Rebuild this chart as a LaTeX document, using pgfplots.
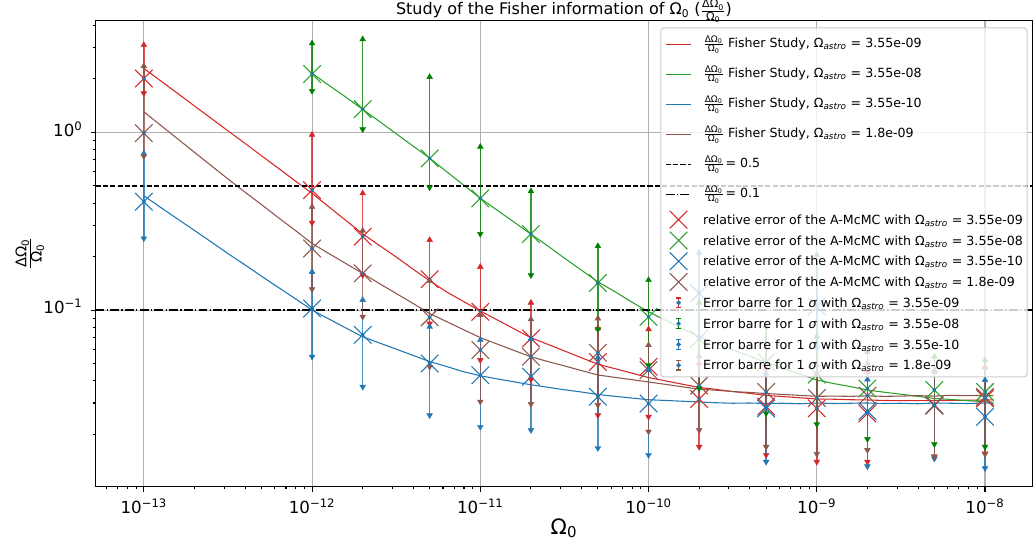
\documentclass[border=0pt]{standalone}
\usepackage{fontspec}
\setmainfont{DejaVu Sans}
\usepackage{pgfplots}
\usepackage{pgfplotstable}
\pgfplotsset{compat=1.18}

\definecolor{tred}{HTML}{D62728}
\definecolor{tgreen}{HTML}{2CA02C}
\definecolor{tblue}{HTML}{1F77B4}
\definecolor{tbrown}{HTML}{8C564B}
\definecolor{dgreen}{HTML}{008000}
\definecolor{gridc}{HTML}{B0B0B0}
\definecolor{legc}{HTML}{CCCCCC}

\newcommand{\fr}[1]{$\frac{\mbox{\fontsize{#1}{#1}\selectfont ΔΩ\textsubscript{0}}}{\mbox{\fontsize{#1}{#1}\selectfont Ω\textsubscript{0}}}$}
\newcommand{\oa}{Ω\textsubscript{\textit{astro}}}
\newcommand{\sF}{\rule[-8.8pt]{0pt}{22.5pt}}
\newcommand{\sR}{\rule[-4.35pt]{0pt}{15.6pt}}

\pgfplotsset{
  lline/.style={legend image code/.code={\draw[mark repeat=2,mark phase=2,##1] plot coordinates {(0pt,0pt) (9.65pt,0pt) (19.3pt,0pt)};}},
  lerr/.style={legend image code/.code={%
     \draw[##1, line width=1.1pt] (9.65pt,-3.6pt) -- (9.65pt,3.6pt);
     \draw[##1, line width=0.8pt] (7.7pt,-3.6pt) -- (11.6pt,-3.6pt);
     \draw[##1, line width=0.8pt] (7.7pt,3.6pt) -- (11.6pt,3.6pt);
     \fill[tblue] (9.65pt,0pt) circle (1.3pt);}},
  errdot/.style={only marks, forget plot, mark=*, mark size=1.3pt, mark options={draw=tblue, fill=tblue, line width=0.2pt},
     error bars/.cd, y dir=both, y explicit, error mark=none,
     error bar style={draw=#1, line width=1.1pt, draw opacity=0.8}},
  uptri/.style={only marks, forget plot, mark=triangle*, mark size=2.5pt, mark options={draw=#1, fill=#1, line width=0.3pt}},
  dntri/.style={only marks, forget plot, mark=triangle*, mark size=2.5pt, mark options={draw=#1, fill=#1, line width=0.3pt, rotate=180}},
  xmk/.style={only marks, forget plot, mark=x, mark size=9.3pt, mark options={draw=#1, line width=0.8pt}},
}

% Fisher study curves
\pgfplotstableread{
x y
1e-13 2.29
1.2589e-13 1.95
1.5849e-13 1.66
1.9953e-13 1.41
2.5119e-13 1.20
3.1623e-13 1.02
3.9811e-13 0.869
5.0119e-13 0.738
6.3096e-13 0.628
7.9433e-13 0.533
1e-12 0.454
1.2589e-12 0.381
1.5849e-12 0.320
1.9953e-12 0.269
2.5119e-12 0.231
3.1623e-12 0.199
3.9811e-12 0.170
5.0119e-12 0.146
6.3096e-12 0.1265
7.9433e-12 0.1117
1e-11 0.0989
1.2589e-11 0.0881
1.5849e-11 0.0785
1.9953e-11 0.0700
2.5119e-11 0.0642
3.1623e-11 0.0589
3.9811e-11 0.0540
5.0119e-11 0.0495
6.3096e-11 0.0468
7.9433e-11 0.0442
1e-10 0.0417
1.2589e-10 0.0400
1.5849e-10 0.0383
1.9953e-10 0.0367
2.5119e-10 0.0358
3.1623e-10 0.0348
3.9811e-10 0.0340
5.0119e-10 0.0331
6.3096e-10 0.0326
7.9433e-10 0.0321
1e-9 0.0316
1.2589e-9 0.0315
1.5849e-9 0.0313
1.9953e-9 0.0312
2.5119e-9 0.0310
3.1623e-9 0.0309
3.9811e-9 0.0309
5.0119e-9 0.0310
6.3096e-9 0.0310
7.9433e-9 0.0311
1e-8 0.0312
1.122e-8 0.0312
}\fisherred

\pgfplotstableread{
x y
1e-12 2.15
1.2589e-12 1.84
1.5849e-12 1.58
1.9953e-12 1.35
2.5119e-12 1.153
3.1623e-12 0.982
3.9811e-12 0.838
5.0119e-12 0.715
6.3096e-12 0.601
7.9433e-12 0.506
1e-11 0.426
1.2589e-11 0.365
1.5849e-11 0.313
1.9953e-11 0.268
2.5119e-11 0.230
3.1623e-11 0.196
3.9811e-11 0.168
5.0119e-11 0.144
6.3096e-11 0.127
7.9433e-11 0.111
1e-10 0.0977
1.2589e-10 0.0877
1.5849e-10 0.0788
1.9953e-10 0.0708
2.5119e-10 0.0651
3.1623e-10 0.0598
3.9811e-10 0.0551
5.0119e-10 0.0507
6.3096e-10 0.0470
7.9433e-10 0.0436
1e-9 0.0404
1.2589e-9 0.0386
1.5849e-9 0.0371
1.9953e-9 0.0355
2.5119e-9 0.0345
3.1623e-9 0.0336
3.9811e-9 0.0327
5.0119e-9 0.0318
6.3096e-9 0.0314
7.9433e-9 0.0309
1e-8 0.0305
1.122e-8 0.0303
}\fishergreen

\pgfplotstableread{
x y
1e-13 0.440
1.2589e-13 0.378
1.5849e-13 0.326
1.9953e-13 0.281
2.5119e-13 0.242
3.1623e-13 0.208
3.9811e-13 0.180
5.0119e-13 0.155
6.3096e-13 0.134
7.9433e-13 0.116
1e-12 0.100
1.2589e-12 0.0891
1.5849e-12 0.0794
1.9953e-12 0.0708
2.5119e-12 0.0653
3.1623e-12 0.0603
3.9811e-12 0.0556
5.0119e-12 0.0513
6.3096e-12 0.0481
7.9433e-12 0.0450
1e-11 0.0427
1.2589e-11 0.0410
1.5849e-11 0.0395
1.9953e-11 0.0380
2.5119e-11 0.0368
3.1623e-11 0.0356
3.9811e-11 0.0346
5.0119e-11 0.0335
6.3096e-11 0.0327
7.9433e-11 0.0320
1e-10 0.0313
1.2589e-10 0.0310
1.5849e-10 0.0307
1.9953e-10 0.0304
2.5119e-10 0.0301
3.1623e-10 0.0299
3.9811e-10 0.0300
5.0119e-10 0.0298
6.3096e-10 0.0299
7.9433e-10 0.0297
1e-9 0.0300
1.2589e-9 0.0298
1.5849e-9 0.0299
1.9953e-9 0.0300
2.5119e-9 0.0298
3.1623e-9 0.0299
3.9811e-9 0.0297
5.0119e-9 0.0300
6.3096e-9 0.0299
7.9433e-9 0.0298
1e-8 0.0300
1.122e-8 0.0299
}\fisherblue

\pgfplotstableread{
x y
1e-13 1.306
1.2589e-13 1.096
1.5849e-13 0.921
1.9953e-13 0.774
2.5119e-13 0.650
3.1623e-13 0.547
3.9811e-13 0.462
5.0119e-13 0.392
6.3096e-13 0.331
7.9433e-13 0.281
1e-12 0.237
1.2589e-12 0.208
1.5849e-12 0.183
1.9953e-12 0.161
2.5119e-12 0.141
3.1623e-12 0.124
3.9811e-12 0.109
5.0119e-12 0.0955
6.3096e-12 0.0861
7.9433e-12 0.0776
1e-11 0.0700
1.2589e-11 0.0644
1.5849e-11 0.0593
1.9953e-11 0.0546
2.5119e-11 0.0514
3.1623e-11 0.0485
3.9811e-11 0.0457
5.0119e-11 0.0431
6.3096e-11 0.0418
7.9433e-11 0.0406
1e-10 0.0394
1.2589e-10 0.0382
1.5849e-10 0.0370
1.9953e-10 0.0359
2.5119e-10 0.0354
3.1623e-10 0.0348
3.9811e-10 0.0344
5.0119e-10 0.0339
6.3096e-10 0.0335
7.9433e-10 0.0331
1e-9 0.0327
1.2589e-9 0.0328
1.5849e-9 0.0327
1.9953e-9 0.0329
2.5119e-9 0.0327
3.1623e-9 0.0328
3.9811e-9 0.0330
5.0119e-9 0.0328
6.3096e-9 0.0331
7.9433e-9 0.0330
1e-8 0.0331
1.122e-8 0.0330
}\fisherbrown

% A-McMC relative errors: value, upper and lower end of the 1 sigma bar
\pgfplotstableread{
x y top bot
1e-13 2.01 3.1 1.66
1e-12 0.473 0.97 0.31
2e-12 0.259 0.454 0.157
5e-12 0.149 0.248 0.084
1e-11 0.0978 0.175 0.0523
2e-11 0.0693 0.11 0.0407
5e-11 0.051 0.079 0.0256
1e-10 0.048 0.078 0.0251
2e-10 0.0316 0.05 0.017
5e-10 0.0287 0.047 0.0153
1e-9 0.028 0.044 0.014
2e-9 0.0262 0.045 0.014
5e-9 0.0292 0.0458 0.015
1e-8 0.0318 0.0475 0.0156
}\mcred

\pgfplotstableread{
x y top bot
1e-12 2.13 3.17 1.71
2e-12 1.35 3.34 1.04
5e-12 0.714 2.05 0.49
1e-11 0.425 0.83 0.268
2e-11 0.268 0.467 0.157
5e-11 0.142 0.229 0.0779
1e-10 0.0916 0.1475 0.049
2e-10 0.069 0.11 0.0363
5e-10 0.051 0.081 0.0262
1e-9 0.0433 0.071 0.0228
2e-9 0.0362 0.058 0.0188
5e-9 0.0355 0.0546 0.0176
1e-8 0.0346 0.0523 0.017
}\mcgreen

\pgfplotstableread{
x y top bot
1e-13 0.407 0.76 0.253
1e-12 0.102 0.164 0.0546
2e-12 0.0725 0.114 0.037
5e-12 0.05 0.0805 0.0256
1e-11 0.043 0.0678 0.022
2e-11 0.0422 0.069 0.0211
5e-11 0.0325 0.054 0.0167
1e-10 0.0298 0.046 0.0153
2e-10 0.124 0.21 0.07
5e-10 0.0279 0.044 0.014
1e-9 0.105 0.204 0.061
2e-9 0.027 0.0407 0.0132
5e-9 0.029 0.045 0.0146
1e-8 0.0251 0.0404 0.0129
}\mcblue

\pgfplotstableread{
x y top bot
1e-13 0.99 2.36 0.735
1e-12 0.222 0.381 0.131
2e-12 0.161 0.28 0.0917
5e-12 0.091 0.146 0.048
1e-11 0.0596 0.0937 0.0305
2e-11 0.0546 0.0887 0.0296
5e-11 0.0575 0.0897 0.0292
1e-10 0.0459 0.0635 0.0207
2e-10 0.0376 0.055 0.0211
5e-10 0.0346 0.05 0.017
1e-9 0.032 0.049 0.0155
2e-9 0.033 0.05 0.0163
5e-9 0.029 0.046 0.015
1e-8 0.0325 0.048 0.0155
}\mcbrown

\begin{document}
\begin{tikzpicture}
\useasboundingbox (-71.625pt,-43.725pt) rectangle (703.875pt,365.025pt);
\begin{axis}[
  at={(0pt,0pt)}, anchor=south west,
  scale only axis, width=702.75pt, height=349.5pt,
  xmode=log, ymode=log,
  xmin=5.16e-14, xmax=1.915e-8, ymin=0.01014, ymax=4.25,
  axis line style={line width=0.8pt, black},
  tick align=outside, tick pos=left,
  xtick={1e-13,1e-12,1e-11,1e-10,1e-9,1e-8},
  xticklabels={10\textsuperscript{−13},10\textsuperscript{−12},10\textsuperscript{−11},10\textsuperscript{−10},10\textsuperscript{−9},10\textsuperscript{−8}},
  ytick={0.1,1},
  yticklabels={10\textsuperscript{−1},10\textsuperscript{0}},
  minor xtick={6e-14,7e-14,8e-14,9e-14,2e-13,3e-13,4e-13,5e-13,6e-13,7e-13,8e-13,9e-13,2e-12,3e-12,4e-12,5e-12,6e-12,7e-12,8e-12,9e-12,2e-11,3e-11,4e-11,5e-11,6e-11,7e-11,8e-11,9e-11,2e-10,3e-10,4e-10,5e-10,6e-10,7e-10,8e-10,9e-10,2e-9,3e-9,4e-9,5e-9,6e-9,7e-9,8e-9,9e-9},
  minor ytick={0.02,0.03,0.04,0.05,0.06,0.07,0.08,0.09,0.2,0.3,0.4,0.5,0.6,0.7,0.8,0.9,2,3,4},
  major tick length=3.7pt, minor tick length=2.1pt,
  every tick/.style={black, line width=0.8pt},
  grid=major, major grid style={gridc, line width=0.8pt},
  tick label style={font=\fontsize{12.5}{14}\selectfont},
  xticklabel style={anchor=base, yshift=-16.2pt},
  yticklabel style={anchor=mid east, xshift=-2.5pt},
  title={Study of the Fisher information of Ω\textsubscript{0} (\fr{8.4})},
  title style={at={(axis description cs:0.5,1)}, anchor=base, yshift=-1.7pt, font=\fontsize{12}{14}\selectfont},
  xlabel={Ω\textsubscript{0}},
  xlabel style={at={(axis description cs:0.5,-0.0886)}, anchor=center, font=\fontsize{16}{18}\selectfont},
  ylabel={\fr{11}},
  ylabel style={at={(axis description cs:-0.0699,0.5)}, anchor=center, font=\fontsize{15}{18}\selectfont},
  legend cell align=left,
  legend style={at={(axis description cs:1,1)}, anchor=north east, xshift=-3.6pt, yshift=-5pt,
     draw=legc, line width=0.8pt, fill=white, fill opacity=0.8, text opacity=1,
     rounded corners=2.5pt, font=\fontsize{9.45}{11.4}\selectfont,
     inner xsep=3.2pt, inner ysep=1pt, row sep=0pt, column sep=8.25pt,
     nodes={inner xsep=0pt, inner ysep=0pt, text depth=, text height=}},
  lline,
]
% Fisher curves
\addplot[tred, line width=0.8pt, forget plot] table[x=x,y=y]{\fisherred};
\addplot[tgreen, line width=0.8pt, forget plot] table[x=x,y=y]{\fishergreen};
\addplot[tblue, line width=0.8pt, forget plot] table[x=x,y=y]{\fisherblue};
\addplot[tbrown, line width=0.8pt, forget plot] table[x=x,y=y]{\fisherbrown};
% reference levels
\addplot[black, line width=1.04pt, dash pattern=on 3.85pt off 1.67pt, forget plot] coordinates {(5.16e-14,0.5) (1.915e-8,0.5)};
\addplot[black, line width=1.04pt, dash pattern=on 6.67pt off 1.67pt on 1.04pt off 1.67pt, forget plot] coordinates {(5.16e-14,0.1) (1.915e-8,0.1)};
% A-McMC crosses
\addplot[xmk=tred] table[x=x,y=y]{\mcred};
\addplot[xmk=tgreen] table[x=x,y=y]{\mcgreen};
\addplot[xmk=tblue] table[x=x,y=y]{\mcblue};
\addplot[xmk=tbrown] table[x=x,y=y]{\mcbrown};
% error bars (1 sigma) with arrow heads and centre dots
\addplot[errdot=tred] table[x=x, y=y, y error plus expr=\thisrow{top}-\thisrow{y}, y error minus expr=\thisrow{y}-\thisrow{bot}]{\mcred};
\addplot[uptri=tred] table[x=x,y=top]{\mcred};
\addplot[dntri=tred] table[x=x,y=bot]{\mcred};
\addplot[errdot=dgreen] table[x=x, y=y, y error plus expr=\thisrow{top}-\thisrow{y}, y error minus expr=\thisrow{y}-\thisrow{bot}]{\mcgreen};
\addplot[uptri=dgreen] table[x=x,y=top]{\mcgreen};
\addplot[dntri=dgreen] table[x=x,y=bot]{\mcgreen};
\addplot[errdot=tblue] table[x=x, y=y, y error plus expr=\thisrow{top}-\thisrow{y}, y error minus expr=\thisrow{y}-\thisrow{bot}]{\mcblue};
\addplot[uptri=tblue] table[x=x,y=top]{\mcblue};
\addplot[dntri=tblue] table[x=x,y=bot]{\mcblue};
\addplot[errdot=tbrown] table[x=x, y=y, y error plus expr=\thisrow{top}-\thisrow{y}, y error minus expr=\thisrow{y}-\thisrow{bot}]{\mcbrown};
\addplot[uptri=tbrown] table[x=x,y=top]{\mcbrown};
\addplot[dntri=tbrown] table[x=x,y=bot]{\mcbrown};
% legend
\addlegendimage{lline, tred, line width=0.8pt, mark=none}
\addlegendentry{\sF\fr{6.8} Fisher Study, \oa{} = 3.55e-09}
\addlegendimage{lline, tgreen, line width=0.8pt, mark=none}
\addlegendentry{\sF\fr{6.8} Fisher Study, \oa{} = 3.55e-08}
\addlegendimage{lline, tblue, line width=0.8pt, mark=none}
\addlegendentry{\sF\fr{6.8} Fisher Study, \oa{} = 3.55e-10}
\addlegendimage{lline, tbrown, line width=0.8pt, mark=none}
\addlegendentry{\sF\fr{6.8} Fisher Study, \oa{} = 1.8e-09}
\addlegendimage{lline, black, line width=1.04pt, mark=none, dash pattern=on 3.85pt off 1.67pt}
\addlegendentry{\sF\fr{6.8}\kern1pt=\kern3pt0.5}
\addlegendimage{lline, black, line width=1.04pt, mark=none, dash pattern=on 6.67pt off 1.67pt on 1.04pt off 1.67pt}
\addlegendentry{\sF\fr{6.8}\kern1pt=\kern3pt0.1}
\addlegendimage{lline, only marks, mark=x, mark size=9.3pt, tred, line width=0.8pt}
\addlegendentry{\sR relative error of the A-McMC with \oa{} = 3.55e-09}
\addlegendimage{lline, only marks, mark=x, mark size=9.3pt, tgreen, line width=0.8pt}
\addlegendentry{\sR relative error of the A-McMC with \oa{} = 3.55e-08}
\addlegendimage{lline, only marks, mark=x, mark size=9.3pt, tblue, line width=0.8pt}
\addlegendentry{\sR relative error of the A-McMC with \oa{} = 3.55e-10}
\addlegendimage{lline, only marks, mark=x, mark size=9.3pt, tbrown, line width=0.8pt}
\addlegendentry{\sR relative error of the A-McMC with \oa{} = 1.8e-09}
\addlegendimage{lerr, tred}
\addlegendentry{\sR Error barre for 1 \textit{σ} with \oa{} = 3.55e-09}
\addlegendimage{lerr, dgreen}
\addlegendentry{\sR Error barre for 1 \textit{σ} with \oa{} = 3.55e-08}
\addlegendimage{lerr, tblue}
\addlegendentry{\sR Error barre for 1 \textit{σ} with \oa{} = 3.55e-10}
\addlegendimage{lerr, tbrown}
\addlegendentry{\sR Error barre for 1 \textit{σ} with \oa{} = 1.8e-09}
\end{axis}
\end{tikzpicture}
\end{document}
